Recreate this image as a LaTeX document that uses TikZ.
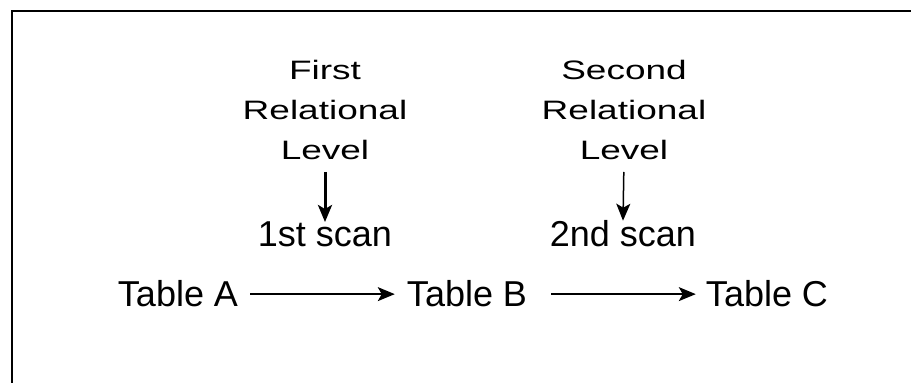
\documentclass[tikz,border=0pt]{standalone}
\usepackage{fontspec}
\setmainfont{Liberation Sans}
\usepackage{tikz}
\usetikzlibrary{arrows.meta, positioning}

\tikzset{
  tbl/.style={font=\fontsize{36}{42}\selectfont, inner sep=0pt, anchor=base},
  scan/.style={font=\fontsize{36}{42}\selectfont, inner sep=0pt, anchor=base},
  level/.style={font=\fontsize{37}{55.5}\selectfont, align=center, inner sep=0pt,
    anchor=south, yscale=0.72},
  flow/.style={line width=1.5pt, -{Stealth[length=17pt, width=14pt, inset=4pt]}},
}

\begin{document}
\begin{tikzpicture}[x=1pt, y=1pt]
  \useasboundingbox (0,0) rectangle (911,383);
  % frame, only top and left edges show
  \draw[line width=1.8pt] (12,0) -- (12,372) -- (911,372);

  \node[level] (lev1) at (325,223) {First\\Relational\\Level};
  \node[level] (lev2) at (624,223) {Second\\Relational\\Level};
  \node[scan] (scan1) at (325,136) {1st scan};
  \node[scan] (scan2) at (623,136) {2nd scan};

  \node[tbl] (tA) at (178,76) {Table A};
  \node[tbl] (tB) at (467,76) {Table B};
  \node[tbl] (tC) at (767,76) {Table C};

  \draw[flow, line width=3pt, shorten <=12pt] (lev1.south) -- (scan1.north);
  \draw[flow, shorten <=12pt] (lev2.south) -- (scan2.north);
  \draw[flow, shorten <=12pt, shorten >=12pt] (tA.east) -- (tB.west);
  \draw[flow, shorten <=24pt, shorten >=10pt] (tB.east) -- (tC.west);
\end{tikzpicture}
\end{document}
